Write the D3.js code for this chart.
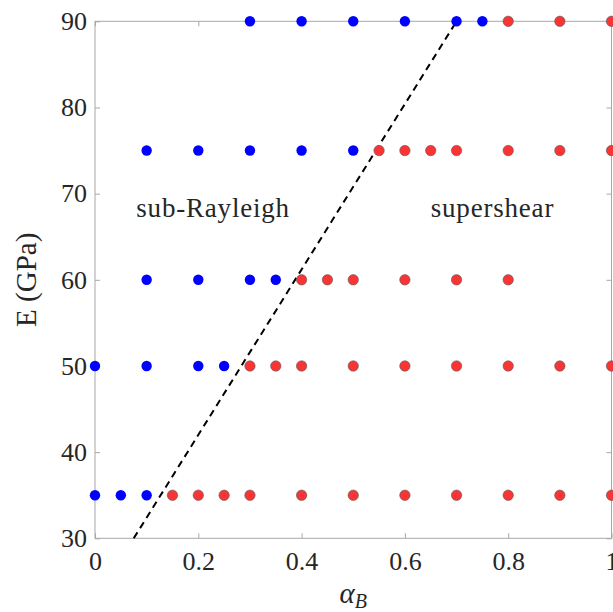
<!DOCTYPE html>
<html>
<head>
<meta charset="utf-8">
<script src="https://cdn.jsdelivr.net/npm/d3@7"></script>
<style>
  body { margin: 0; background: #fff; }
  svg { display: block; }
  text { font-family: "Liberation Serif", "Times New Roman", serif; }
</style>
</head>
<body>
<div id="chart"></div>
<script>
var width = 613, height = 612;
var margin = { top: 21.3, right: 1.5, bottom: 73.7, left: 95 };
var plotW = width - margin.left - margin.right;
var plotH = height - margin.top - margin.bottom;

// E levels (GPa) and alpha_B values, split by regime
var subAlpha = [
  [0.3, 0.4, 0.5, 0.6, 0.7, 0.75],       // E = 90
  [0.1, 0.2, 0.3, 0.4, 0.5],             // E = 75
  [0.1, 0.2, 0.3, 0.35],                 // E = 60
  [0, 0.1, 0.2, 0.25],                   // E = 50
  [0, 0.05, 0.1]                         // E = 35
];
var superAlpha = [
  [0.8, 0.9, 1],
  [0.55, 0.6, 0.65, 0.7, 0.8, 0.9, 1],
  [0.4, 0.45, 0.5, 0.6, 0.7, 0.8],
  [0.3, 0.35, 0.4, 0.5, 0.6, 0.7, 0.8, 0.9, 1],
  [0.15, 0.2, 0.25, 0.3, 0.4, 0.5, 0.6, 0.7, 0.8, 0.9, 1]
];
var eLevels = [90, 75, 60, 50, 35];

// dashed boundary line
var boundary = [[0.075, 30], [0.7, 90]];

var xTicks = [0, 0.2, 0.4, 0.6, 0.8, 1];
var yTicks = [30, 40, 50, 60, 70, 80, 90];

var labels = [
  { text: "sub-Rayleigh", x: 0.08, y: 67.3 },
  { text: "supershear", x: 0.65, y: 67.3 }
];

var x = d3.scaleLinear().domain([0, 1]).range([0, plotW]);
var y = d3.scaleLinear().domain([30, 90]).range([plotH, 0]);

var svg = d3.select("#chart").append("svg").attr("width", width).attr("height", height);
var g = svg.append("g").attr("transform", "translate(" + margin.left + "," + margin.top + ")");

var axisColor = "#a8a8a8", textColor = "#262626";

function fmt(d) { return String(d); }

// box + ticks
g.append("rect").attr("width", plotW).attr("height", plotH)
  .attr("fill", "none").attr("stroke", axisColor).attr("stroke-width", 1);

var axL = g.append("g").call(d3.axisLeft(y).tickValues(yTicks).tickSize(-5).tickSizeOuter(0).tickPadding(8));
var axB = g.append("g").attr("transform", "translate(0," + plotH + ")")
  .call(d3.axisBottom(x).tickValues(xTicks).tickFormat(fmt).tickSize(-5).tickSizeOuter(0).tickPadding(13));
var axR = g.append("g").attr("transform", "translate(" + plotW + ",0)")
  .call(d3.axisRight(y).tickValues(yTicks).tickFormat("").tickSize(-5).tickSizeOuter(0));
var axT = g.append("g")
  .call(d3.axisTop(x).tickValues(xTicks).tickFormat("").tickSize(-5).tickSizeOuter(0));

[axL, axB, axR, axT].forEach(function (a) {
  a.attr("font-family", null);
  a.select(".domain").remove();
  a.selectAll(".tick line").attr("stroke", axisColor);
  a.selectAll(".tick text").attr("fill", textColor).style("font-size", "26px")
    .style("font-family", "'Liberation Serif', serif");
});

// dashed line
g.append("path")
  .datum(boundary)
  .attr("d", d3.line().x(function (d) { return x(d[0]); }).y(function (d) { return y(d[1]); }))
  .attr("fill", "none").attr("stroke", "#000").attr("stroke-width", 2)
  .attr("stroke-dasharray", "7,5");

// points
function flatten(arr) {
  var out = [];
  arr.forEach(function (row, i) {
    row.forEach(function (a) { out.push({ a: a, e: eLevels[i] }); });
  });
  return out;
}

g.selectAll("circle.sup").data(flatten(superAlpha)).enter().append("circle")
  .attr("class", "sup")
  .attr("cx", function (d) { return x(d.a); })
  .attr("cy", function (d) { return y(d.e); })
  .attr("r", 5.2)
  .attr("fill", "#f83434").attr("stroke", "#5c5c5c").attr("stroke-width", 0.6);

g.selectAll("circle.sub").data(flatten(subAlpha)).enter().append("circle")
  .attr("class", "sub")
  .attr("cx", function (d) { return x(d.a); })
  .attr("cy", function (d) { return y(d.e); })
  .attr("r", 5.2)
  .attr("fill", "#0000ff");

// region labels
g.selectAll("text.lbl").data(labels).enter().append("text")
  .attr("class", "lbl")
  .attr("x", function (d) { return x(d.x); })
  .attr("y", function (d) { return y(d.y); })
  .attr("fill", textColor)
  .style("font-size", "27px")
  .style("letter-spacing", "0.8px")
  .text(function (d) { return d.text; });

// axis labels
var xl = svg.append("text")
  .attr("x", margin.left + plotW / 2)
  .attr("y", 603)
  .attr("text-anchor", "middle")
  .attr("fill", textColor)
  .style("font-size", "29px");
xl.append("tspan").style("font-style", "italic").text("α");
xl.append("tspan").style("font-style", "italic").style("font-size", "20px").attr("dy", 5).text("B");

svg.append("text")
  .attr("transform", "translate(36," + (margin.top + plotH / 2) + ") rotate(-90)")
  .attr("text-anchor", "middle")
  .attr("fill", textColor)
  .style("font-size", "29px")
  .text("E (GPa)");
</script>
</body>
</html>
